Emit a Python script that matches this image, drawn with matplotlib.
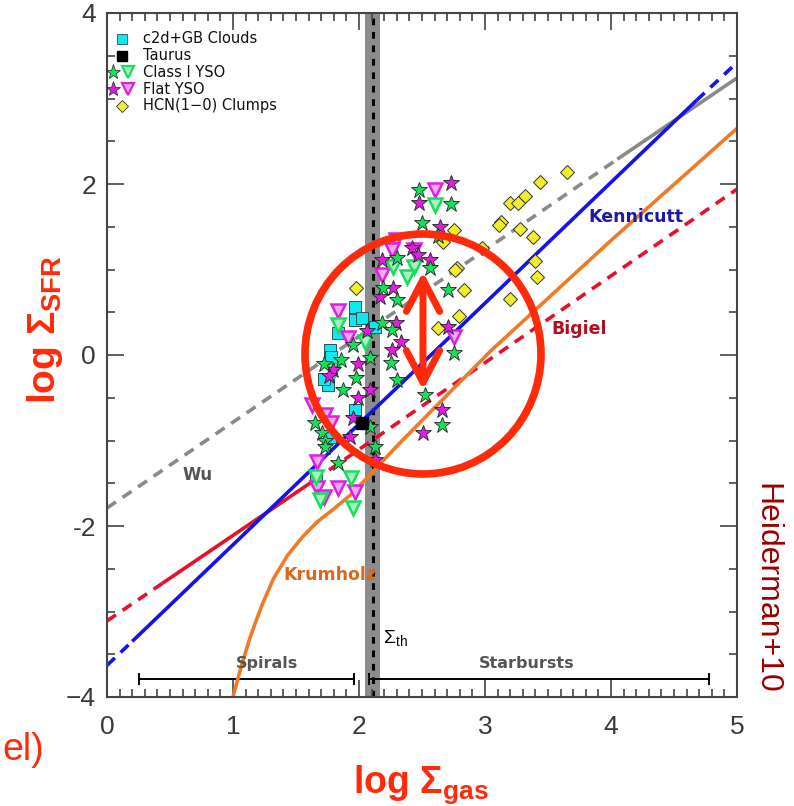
import matplotlib
matplotlib.use("Agg")
import matplotlib.pyplot as plt
from matplotlib.patches import Ellipse
import numpy as np

plt.rcParams['font.family'] = ['DejaVu Sans']
plt.rcParams['mathtext.fontset'] = 'custom'
plt.rcParams['mathtext.rm'] = 'Liberation Sans'
plt.rcParams['mathtext.it'] = 'Liberation Sans'
plt.rcParams['mathtext.bf'] = 'Liberation Sans:bold'

# ---------------- data ----------------
x_ticks = [0, 1, 2, 3, 4, 5]
x_tick_labels = ['0', '1', '2', '3', '4', '5']
y_ticks = [-4, -2, 0, 2, 4]
y_tick_labels = ['\u22124', '-2', '0', '2', '4']

# model lines (x, y)
kenn_x = [0.0, 0.2, 4.68, 5.0]
kenn_y = [-3.63, -3.35, 2.98, 3.42]
bigiel_x = [0.0, 0.44, 1.64, 5.0]
bigiel_y = [-3.11, -2.67, -1.47, 1.94]
wu_x = [0.0, 2.35, 4.05, 5.0]
wu_y = [-1.79, 0.57, 2.29, 3.24]
krum_x = [1.0, 1.04, 1.08, 1.13, 1.18, 1.24, 1.32, 1.43, 1.55, 1.67, 1.80, 1.93, 2.05, 2.17,
          2.33, 3.04, 4.0, 5.0]
krum_y = [-4.0, -3.78, -3.57, -3.33, -3.12, -2.89, -2.62, -2.35, -2.13, -1.95, -1.80, -1.64,
          -1.46, -1.27, -1.02, 0.04, 1.34, 2.65]

sigma_th = 2.11
spirals_range = [0.25, 1.96]
starburst_range = [2.08, 4.78]
range_y = -3.79

clouds_x = [1.97, 1.97, 2.02, 1.83, 2.13, 1.77, 1.78, 1.75, 1.97, 1.77, 1.66, 1.72]
clouds_y = [0.56, 0.41, 0.43, 0.26, 0.33, 0.06, -0.02, -0.35, -0.64, -0.96, -1.43, -0.28]
taurus_x = [2.02]
taurus_y = [-0.80]

c1_star_x = [2.48, 2.73, 2.50, 2.63, 2.56, 2.30, 2.19, 2.30, 2.71, 2.18, 2.26, 1.95, 2.09, 1.86,
             2.25, 1.98, 2.30, 1.87, 1.65, 2.09, 1.71, 1.73, 1.73, 1.83, 2.13, 2.52, 2.66, 2.75, 1.72]
c1_star_y = [1.93, 1.77, 1.54, 1.39, 1.02, 1.13, 0.78, 0.64, 0.76, 0.37, 0.29, 0.12, -0.04, -0.06,
             -0.09, -0.27, -0.29, -0.41, -0.80, -0.84, -0.91, -1.00, -1.08, -1.26, -1.08, -0.47, -0.82, 0.02, -0.10]
c1_tri_x = [2.60, 2.44, 2.27, 2.38, 1.83, 2.05, 1.80, 1.66, 1.94, 1.69, 1.95]
c1_tri_y = [1.75, 1.03, 1.03, 0.91, 0.35, 0.15, -0.18, -1.43, -1.44, -1.70, -1.79]

flat_star_x = [2.73, 2.48, 2.64, 2.42, 2.47, 2.56, 2.18, 2.27, 2.17, 2.29, 2.33, 2.26, 1.99, 1.79,
               1.76, 2.09, 1.99, 1.95, 1.93, 2.13, 2.66, 2.51, 2.71, 2.06]
flat_star_y = [2.01, 1.78, 1.50, 1.25, 1.17, 1.11, 1.11, 0.78, 0.68, 0.37, 0.15, 0.06, -0.10, -0.18,
               -0.24, -0.41, -0.50, -0.74, -0.96, -1.23, -0.64, -0.91, 0.33, 0.28]
flat_tri_x = [2.60, 2.29, 2.26, 2.44, 2.18, 1.83, 1.91, 1.63, 1.73, 1.78, 1.67, 1.67, 1.83, 1.97, 1.72, 2.75]
flat_tri_y = [1.93, 1.35, 1.23, 1.23, 0.94, 0.52, 0.20, -0.58, -0.70, -0.80, -1.25, -1.56, -1.56, -1.60, -1.66, 0.21]

hcn_x = [3.65, 3.44, 3.32, 3.20, 3.26, 3.13, 3.11, 3.28, 3.38, 2.75, 2.67, 2.98, 2.78, 2.76,
         3.40, 3.41, 2.83, 3.20, 1.98, 2.79, 2.63]
hcn_y = [2.14, 2.02, 1.86, 1.78, 1.78, 1.56, 1.52, 1.47, 1.38, 1.46, 1.32, 1.25, 1.02, 0.99,
         1.10, 0.91, 0.76, 0.65, 0.78, 0.46, 0.32]

legend_labels = ['c2d+GB Clouds', 'Taurus', 'Class I YSO', 'Flat YSO', 'HCN(1\u22120) Clumps']

# ---------------- colours ----------------
BLUE = '#1414e6'
RED = '#e8102a'
GRAY = '#8a8a8a'
ORANGE = '#f07a26'
GREEN = '#14e05a'
MAGENTA = '#e01ee0'
CYAN = '#10e8f0'
YELLOW = '#f2ee2a'
ANN = '#ff2a0a'

fig = plt.figure(figsize=(7.94, 8.06), dpi=100)
ax = fig.add_axes([107/794, 1-697/806, 630/794, 684/806])
ax.set_xlim(0, 5)
ax.set_ylim(-4, 4)

DASH = (0, (3.0, 2.2))
LW = 2.6

def seg(xs, ys, styles, color):
    for i in range(len(xs)-1):
        ax.plot(xs[i:i+2], ys[i:i+2], color=color, lw=LW, ls=styles[i],
                solid_capstyle='butt', dash_capstyle='butt', zorder=2)

seg(wu_x, wu_y, [DASH, DASH, '-', DASH], GRAY)
seg(bigiel_x, bigiel_y, [DASH, '-', DASH], RED)
seg(kenn_x, kenn_y, [DASH, '-', DASH], BLUE)
ax.plot(krum_x, krum_y, color=ORANGE, lw=LW, zorder=2.1, solid_joinstyle='round')

# Sigma_th band
ax.axvspan(sigma_th-0.06, sigma_th+0.06, color='#8c8c8c', lw=0, zorder=1)
ax.axvline(sigma_th, color='black', lw=2.2, ls=(0, (2.2, 2.2)), zorder=1.1)

# range bars
for rng in (spirals_range, starburst_range):
    ax.plot(rng, [range_y, range_y], color='black', lw=1.4, zorder=2)
    for xe in rng:
        ax.plot([xe, xe], [range_y-0.06, range_y+0.06], color='black', lw=1.4, zorder=2)

# scatter points
ms_star = 12
ms_tri = 10
ax.plot(hcn_x, hcn_y, 'D', ms=7, mfc=YELLOW, mec='#333333', mew=0.7, ls='none', zorder=3)
ax.plot(clouds_x, clouds_y, 's', ms=8, mfc=CYAN, mec='#225555', mew=0.7, ls='none', zorder=3)
ax.plot(flat_tri_x, flat_tri_y, 'v', ms=ms_tri, mfc='#f0a8f0', mec=MAGENTA, mew=1.8, ls='none', zorder=3.1)
ax.plot(c1_tri_x, c1_tri_y, 'v', ms=ms_tri, mfc='#a8f0c0', mec=GREEN, mew=1.8, ls='none', zorder=3.1)
ax.plot(flat_star_x, flat_star_y, '*', ms=ms_star, mfc=MAGENTA, mec='#222222', mew=0.6, ls='none', zorder=3.2)
ax.plot(c1_star_x, c1_star_y, '*', ms=ms_star, mfc=GREEN, mec='#222222', mew=0.6, ls='none', zorder=3.2)
ax.plot(taurus_x, taurus_y, 's', ms=8, mfc='black', mec='black', ls='none', zorder=3.3)

# legend (manual)
tx = 0.057
y0 = 0.962
dy = 0.0244
lk = dict(transform=ax.transAxes, ls='none', clip_on=False, zorder=5)
ax.plot([0.024], [y0], 's', ms=7, mfc=CYAN, mec='#225555', mew=0.6, **lk)
ax.plot([0.024], [y0-dy], 's', ms=7, mfc='black', mec='black', **lk)
ax.plot([0.010], [y0-2*dy], '*', ms=11, mfc=GREEN, mec='#222222', mew=0.5, **lk)
ax.plot([0.033], [y0-2*dy], 'v', ms=8, mfc='#a8f0c0', mec=GREEN, mew=1.6, **lk)
ax.plot([0.010], [y0-3*dy], '*', ms=11, mfc=MAGENTA, mec='#222222', mew=0.5, **lk)
ax.plot([0.033], [y0-3*dy], 'v', ms=8, mfc='#f0a8f0', mec=MAGENTA, mew=1.6, **lk)
ax.plot([0.024], [y0-4*dy], 'D', ms=6, mfc=YELLOW, mec='#333333', mew=0.6, **lk)
for i, lab in enumerate(legend_labels):
    ax.text(tx, y0-i*dy, lab, transform=ax.transAxes, fontsize=10.5, va='center', ha='left',
            color='#111111')

# in-plot labels
ax.text(0.72, -1.40, 'Wu', color='#555555', fontsize=12, fontweight='bold', ha='center', va='center')
ax.text(4.2, 1.61, 'Kennicutt', color='#1a1aa8', fontsize=12.5, fontweight='bold', ha='center', va='center')
ax.text(3.75, 0.30, 'Bigiel', color='#b0101e', fontsize=12.5, fontweight='bold', ha='center', va='center')
ax.text(1.77, -2.57, 'Krumholz', color='#d8681c', fontsize=12.5, fontweight='bold', ha='center', va='center')
ax.text(1.27, -3.61, 'Spirals', color='#555555', fontsize=11.5, fontweight='bold', ha='center', va='center')
ax.text(3.33, -3.61, 'Starbursts', color='#555555', fontsize=11.5, fontweight='bold', ha='center', va='center')
ax.text(2.19, -3.31, r'$\Sigma_{th}$', color='black', fontsize=14, ha='left', va='center')

# ticks
ax.set_xticks(x_ticks)
ax.set_xticklabels(x_tick_labels)
ax.set_yticks(y_ticks)
ax.set_yticklabels(y_tick_labels)
ax.set_xticks(np.arange(0, 5.001, 0.1), minor=True)
ax.set_yticks(np.arange(-4, 4.001, 0.5), minor=True)
ax.tick_params(which='both', direction='in', top=True, right=True, color='#444444', width=1.2)
ax.tick_params(which='major', length=12)
ax.tick_params(which='minor', length=6)
ax.tick_params(axis='x', which='major', pad=13, labelsize=19, labelcolor='#3a3a3a')
ax.tick_params(axis='y', which='major', pad=8, labelsize=19, labelcolor='#3a3a3a')
for lab in ax.get_xticklabels() + ax.get_yticklabels():
    lab.set_fontfamily('Liberation Sans')
for sp in ax.spines.values():
    sp.set_color('#444444')
    sp.set_linewidth(1.5)

# outer annotations
fig.text(45/794, 1-330/806, r'$\mathbf{log\ \Sigma_{SFR}}$', color=ANN, fontsize=28,
         rotation=90, ha='center', va='center')
fig.text(421/794, 1-785/806, r'$\mathbf{log\ \Sigma_{gas}}$', color=ANN, fontsize=27,
         ha='center', va='center')
fig.text(766/794, 1-588/806, 'Heiderman+10', color='#990000', fontsize=23,
         family='Liberation Sans', rotation=270, ha='center', va='center')
fig.text(2/794, 1-750/806, 'el)', color=ANN, fontsize=27, family='Liberation Sans',
         ha='left', va='center')

# red circle and arrow
circ = Ellipse((423/794, 1-354/806), 236/794, 240/806, transform=fig.transFigure,
               fill=False, ec=ANN, lw=5.5, zorder=10)
fig.patches.append(circ)
ax.annotate('', xy=(423/794, 1-272/806), xytext=(423/794, 1-390/806),
            xycoords='figure fraction', textcoords='figure fraction',
            arrowprops=dict(arrowstyle='<->,head_length=1.15,head_width=0.6', color=ANN,
                            lw=5, mutation_scale=20, shrinkA=0, shrinkB=0), zorder=10)

fig.savefig('out.png', dpi=100)
